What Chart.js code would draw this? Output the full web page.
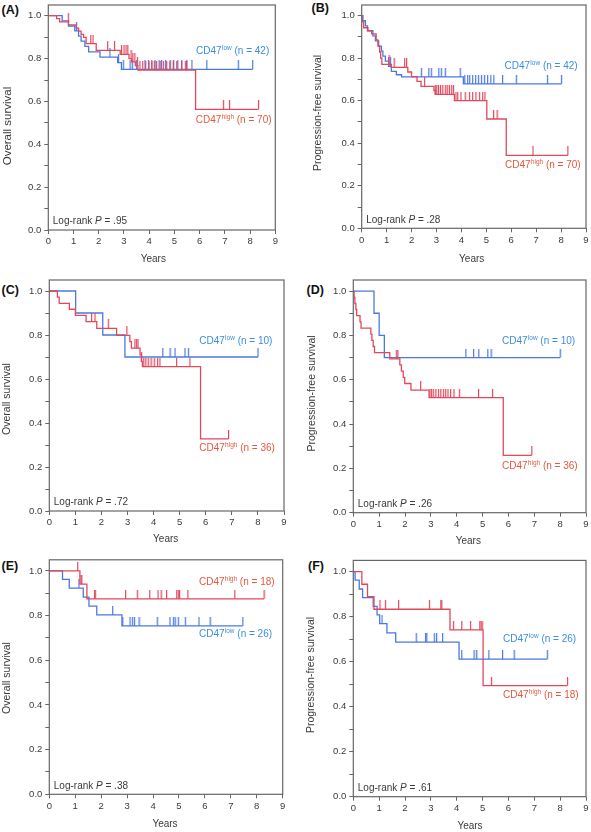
<!DOCTYPE html>
<html><head><meta charset="utf-8">
<script src="https://cdn.jsdelivr.net/npm/chart.js@4.4.1/dist/chart.umd.min.js"></script>
<style>
html,body{margin:0;padding:0;background:#fff;}
body{width:591px;height:832px;position:relative;overflow:hidden;font-family:"Liberation Sans",Arial,sans-serif;}
.pl{position:absolute;font-weight:bold;font-size:12.5px;line-height:13px;color:#111;}
canvas{position:absolute;}
</style></head><body>
<div class="pl" style="left:1.5px;top:3.5px">(A)</div>
<div class="pl" style="left:311.5px;top:2px">(B)</div>
<div class="pl" style="left:1.5px;top:283.5px">(C)</div>
<div class="pl" style="left:306.5px;top:283.5px">(D)</div>
<div class="pl" style="left:1.5px;top:560px">(E)</div>
<div class="pl" style="left:308px;top:560px">(F)</div>
<canvas id="cA" width="295" height="275" style="left:0;top:0"></canvas>
<canvas id="cB" width="296" height="275" style="left:295px;top:0"></canvas>
<canvas id="cC" width="295" height="275" style="left:0;top:275px"></canvas>
<canvas id="cD" width="296" height="275" style="left:295px;top:275px"></canvas>
<canvas id="cE" width="295" height="282" style="left:0;top:550px"></canvas>
<canvas id="cF" width="296" height="282" style="left:295px;top:550px"></canvas>
<script>
// ---------- data (years / survival) ----------
const xTicks = [0,1,2,3,4,5,6,7,8,9];

// (A) overall survival, all patients
const A_low_t  = [0, 0.55, 0.8, 1.05, 1.2, 1.3, 1.45, 1.6, 2.05, 2.75, 2.9];
const A_low_s  = [1, 0.976, 0.952, 0.929, 0.905, 0.881, 0.857, 0.831, 0.807, 0.781, 0.750];
const A_low_c  = [1.12, 2.44, 2.78, 2.97, 3.24, 3.33, 3.5, 3.83, 3.97, 4.1, 4.23, 4.39, 4.49, 4.65, 4.83, 4.96, 5.13, 5.29, 5.49, 5.69, 6.28, 7.53, 8.10];
const A_high_t = [0, 0.33, 0.45, 0.8, 1.1, 1.2, 1.3, 1.4, 1.5, 1.9, 2.85, 3.2, 3.3, 3.45, 3.55, 5.84];
const A_high_s = [1, 0.986, 0.971, 0.957, 0.942, 0.928, 0.913, 0.899, 0.870, 0.838, 0.820, 0.800, 0.785, 0.767, 0.746, 0.563];
const A_high_c = [0.79, 1.68, 1.77, 2.35, 2.62, 2.9, 3.0, 3.08, 3.15, 3.28, 3.35, 3.43, 3.53, 3.63, 3.74, 3.86, 3.99, 4.1, 4.2, 4.29, 4.43, 4.56, 4.69, 4.82, 4.95, 5.09, 5.28, 5.43, 5.48, 6.94, 7.18, 8.33];

// (B) progression-free survival, all patients
const B_low_t  = [0, 0.05, 0.15, 0.23, 0.45, 0.55, 0.68, 0.79, 0.85, 0.95, 1.08, 1.19, 1.39, 1.6, 4.08];
const B_low_s  = [1, 0.976, 0.952, 0.929, 0.905, 0.881, 0.857, 0.833, 0.810, 0.786, 0.762, 0.738, 0.722, 0.712, 0.679];
const B_low_c  = [1.08, 1.15, 2.39, 2.69, 2.79, 3.09, 3.19, 3.35, 3.95, 4.13, 4.25, 4.33, 4.45, 4.57, 4.68, 4.8, 4.92, 5.05, 5.18, 5.3, 5.65, 6.2, 7.45, 8.01];
const B_high_t = [0, 0.02, 0.08, 0.25, 0.4, 0.58, 0.65, 0.72, 0.76, 0.81, 1.19, 1.85, 2.0, 2.22, 2.38, 2.9, 2.95, 3.72, 5.02, 5.8];
const B_high_s = [1, 0.971, 0.943, 0.929, 0.914, 0.886, 0.857, 0.829, 0.800, 0.771, 0.757, 0.735, 0.713, 0.691, 0.667, 0.648, 0.630, 0.600, 0.514, 0.343];
const B_high_c = [1.1, 1.3, 1.72, 1.8, 2.52, 2.95, 3.01, 3.08, 3.16, 3.25, 3.35, 3.43, 3.52, 3.61, 3.68, 3.78, 3.85, 3.98, 4.15, 4.32, 4.45, 4.58, 4.72, 4.85, 4.94, 5.29, 5.43, 6.87, 8.27];

// (C) overall survival, subgroup
const C_low_t  = [0, 1.01, 2.05, 2.9];
const C_low_s  = [1, 0.9, 0.8, 0.7];
const C_low_c  = [4.35, 4.63, 4.82, 5.2, 5.33, 8.0];
const C_high_t = [0, 0.31, 0.38, 0.77, 1.0, 1.41, 1.82, 2.58, 3.09, 3.15, 3.48, 3.53, 3.57, 5.8];
const C_high_s = [1, 0.972, 0.944, 0.917, 0.889, 0.861, 0.830, 0.798, 0.770, 0.740, 0.710, 0.680, 0.656, 0.328];
const C_high_c = [1.62, 1.75, 2.26, 2.97, 3.28, 3.34, 3.4, 3.54, 3.62, 3.7, 3.79, 3.9, 4.02, 4.15, 4.24, 4.88, 5.39, 6.87];

// (D) progression-free survival, subgroup
const D_low_t  = [0, 0.8, 1.0, 1.2];
const D_low_s  = [1, 0.9, 0.8, 0.7];
const D_low_c  = [4.35, 4.65, 4.85, 5.2, 5.33, 8.0];
const D_high_t = [0, 0.03, 0.06, 0.1, 0.13, 0.26, 0.3, 0.68, 0.72, 0.77, 0.82, 1.41, 1.8, 1.86, 1.93, 1.99, 2.23, 2.93, 5.8];
const D_high_s = [1, 0.972, 0.944, 0.917, 0.889, 0.861, 0.833, 0.806, 0.778, 0.750, 0.722, 0.694, 0.667, 0.639, 0.611, 0.583, 0.553, 0.519, 0.259];
const D_high_c = [1.66, 1.72, 2.6, 2.96, 3.02, 3.09, 3.19, 3.29, 3.38, 3.48, 3.57, 3.66, 3.76, 3.89, 4.1, 4.84, 5.38, 6.9];

// (E) overall survival, subgroup
const E_low_t  = [0, 0.51, 0.77, 1.31, 1.53, 1.83, 2.8];
const E_low_s  = [1, 0.962, 0.923, 0.883, 0.843, 0.803, 0.754];
const E_low_c  = [1.14, 2.44, 2.83, 3.11, 3.2, 3.28, 3.46, 4.16, 4.65, 4.78, 4.85, 4.97, 5.24, 5.77, 6.2, 7.46];
const E_high_t = [0, 1.18, 1.45];
const E_high_s = [1, 0.941, 0.875];
const E_high_c = [1.09, 1.22, 1.25, 1.74, 1.77, 2.94, 3.39, 3.87, 4.19, 4.31, 4.52, 4.91, 4.97, 5.02, 5.34, 7.15, 8.28];

// (F) progression-free survival, subgroup
const F_low_t  = [0, 0.07, 0.23, 0.36, 0.77, 0.92, 1.02, 1.3, 1.64, 4.09];
const F_low_s  = [1, 0.962, 0.923, 0.885, 0.846, 0.808, 0.769, 0.728, 0.687, 0.611];
const F_low_c  = [1.11, 2.43, 2.79, 2.84, 3.13, 3.22, 3.45, 4.19, 4.67, 4.77, 5.24, 5.77, 6.22, 7.5];
const F_high_t = [0, 0.33, 0.55, 0.8, 3.74, 5.02];
const F_high_s = [1, 0.944, 0.889, 0.833, 0.741, 0.494];
const F_high_c = [1.03, 1.24, 1.75, 2.94, 3.38, 3.42, 3.87, 4.19, 4.53, 4.89, 4.94, 4.98, 5.34, 8.28];

const nLow  = [42, 42, 10, 10, 26, 26];
const nHigh = [70, 70, 36, 36, 18, 18];
const pValues = ['.95', '.28', '.72', '.26', '.38', '.61'];
const yTitles = ['Overall survival', 'Progression-free survival', 'Overall survival', 'Progression-free survival', 'Overall survival', 'Progression-free survival'];

// ---------- helpers ----------
const FONT = "'Liberation Sans', Arial, sans-serif";
const BLUE = '#4a78e2', RED = '#e1485c', BLUE_T = '#3a8ee2', RED_T = '#e7573c';
const AXC = '#666666', TXT = '#3a3a3a';

function stepsOf(t, s, c) {
  const end = Math.max(...c);
  const pts = t.map((v, i) => ({x: v, y: s[i]}));
  pts.push({x: end, y: s[s.length - 1]});
  return pts;
}
function survAt(t, s, x) { let v = s[0]; for (let i = 0; i < t.length; i++) if (t[i] <= x) v = s[i]; return v; }
function censOf(t, s, c) { return c.map(x => ({x: x, y: survAt(t, s, x)})); }
function tickImg(color) {
  const cv = document.createElement('canvas'); cv.width = 3; cv.height = 18;
  const g = cv.getContext('2d'); g.fillStyle = color; g.fillRect(1, 0, 1.2, 9); return cv;
}
const blueTick = tickImg(BLUE), redTick = tickImg(RED);

function drawSupLabel(ctx, x, y, sup, n, color) {
  ctx.fillStyle = color; ctx.textAlign = 'left'; ctx.textBaseline = 'middle';
  ctx.font = '10px ' + FONT;
  ctx.fillText('CD47', x, y);
  let w = ctx.measureText('CD47').width;
  ctx.font = '6.5px ' + FONT;
  ctx.fillText(sup, x + w + 0.3, y - 3.2);
  w += ctx.measureText(sup).width + 0.3;
  ctx.font = '10px ' + FONT;
  ctx.fillText(' (n = ' + n + ')', x + w, y);
}

const kmPlugin = {
  id: 'km',
  afterDraw(chart, args, o) {
    const {ctx, chartArea: a, scales: {x, y}} = chart;
    ctx.save();
    ctx.strokeStyle = AXC; ctx.lineWidth = 1.2;
    ctx.strokeRect(a.left, a.top, a.right - a.left, a.bottom - a.top);
    // axis titles
    ctx.fillStyle = TXT; ctx.textAlign = 'center'; ctx.textBaseline = 'middle';
    ctx.font = '10px ' + FONT;
    ctx.fillText('Years', o.xT[0], o.xT[1]);
    ctx.save();
    ctx.translate(o.yT[0], o.yT[1]); ctx.rotate(-Math.PI / 2);
    ctx.font = o.yFont + 'px ' + FONT;
    ctx.fillText(o.yTitle, 0, 0);
    ctx.restore();
    // log-rank
    ctx.textAlign = 'left'; ctx.fillStyle = TXT;
    const lx = a.left + 4.5, ly = a.bottom - 8.5;
    ctx.font = '10px ' + FONT;
    ctx.fillText('Log-rank ', lx, ly);
    let w = ctx.measureText('Log-rank ').width;
    ctx.font = 'italic 10px ' + FONT;
    ctx.fillText('P', lx + w, ly);
    w += ctx.measureText('P').width;
    ctx.font = '10px ' + FONT;
    ctx.fillText(' = ' + o.p, lx + w, ly);
    // group labels
    drawSupLabel(ctx, x.getPixelForValue(o.lowLab[0]), y.getPixelForValue(o.lowLab[1]), 'low', o.nLow, BLUE_T);
    drawSupLabel(ctx, x.getPixelForValue(o.highLab[0]), y.getPixelForValue(o.highLab[1]), 'high', o.nHigh, RED_T);
    ctx.restore();
  }
};

const panels = [
  {id: 'cA', low: [A_low_t, A_low_s, A_low_c], high: [A_high_t, A_high_s, A_high_c], lowLab: [5.86, 0.834], highLab: [5.85, 0.513],
   area: {left: 48.3, right: 19.7, top: 1.4, bottom: 45}, yT: [7.5, 126], yFont: 11.5, xT: [153.3, 259]},
  {id: 'cB', low: [B_low_t, B_low_s, B_low_c], high: [B_high_t, B_high_s, B_high_c], lowLab: [5.73, 0.76], highLab: [5.75, 0.296],
   area: {left: 66.7, right: 4.3, top: 1.5, bottom: 46.7}, yT: [22.7, 113], yFont: 10.5, xT: [176.7, 259.3]},
  {id: 'cC', low: [C_low_t, C_low_s, C_low_c], high: [C_high_t, C_high_s, C_high_c], lowLab: [5.75, 0.772], highLab: [5.75, 0.286],
   area: {left: 49.3, right: 11, top: 2.2, bottom: 39}, yT: [7.5, 124], yFont: 10.5, xT: [165.7, 264.3]},
  {id: 'cD', low: [D_low_t, D_low_s, D_low_c], high: [D_high_t, D_high_s, D_high_c], lowLab: [5.75, 0.772], highLab: [5.75, 0.209],
   area: {left: 58.3, right: 4.3, top: 3.1, bottom: 37.3}, yT: [16.7, 118.5], yFont: 10.5, xT: [173.3, 266.7]},
  {id: 'cE', low: [E_low_t, E_low_s, E_low_c], high: [E_high_t, E_high_s, E_high_c], lowLab: [5.77, 0.718], highLab: [5.77, 0.949],
   area: {left: 49.3, right: 12.3, top: 9.8, bottom: 37.7}, yT: [7.5, 128], yFont: 10.5, xT: [165, 274.5]},
  {id: 'cF', low: [F_low_t, F_low_s, F_low_c], high: [F_high_t, F_high_s, F_high_c], lowLab: [5.79, 0.70], highLab: [5.79, 0.449],
   area: {left: 58.3, right: 2.7, top: 10.4, bottom: 35.3}, yT: [16, 125], yFont: 10.5, xT: [175, 276]}
];

panels.forEach((p, i) => {
  const [lt, ls, lc] = p.low, [ht, hs, hc] = p.high;
  new Chart(document.getElementById(p.id), {
    type: 'line',
    data: {
      datasets: [
        {data: stepsOf(ht, hs, hc), stepped: true, borderColor: RED, borderWidth: 1.3, pointRadius: 0, fill: false},
        {data: censOf(ht, hs, hc), showLine: false, pointStyle: redTick, pointRadius: 3, borderColor: RED, backgroundColor: RED},
        {data: stepsOf(lt, ls, lc), stepped: true, borderColor: BLUE, borderWidth: 1.3, pointRadius: 0, fill: false},
        {data: censOf(lt, ls, lc), showLine: false, pointStyle: blueTick, pointRadius: 3, borderColor: BLUE, backgroundColor: BLUE}
      ]
    },
    options: {
      responsive: false, animation: false, events: [],
      layout: {padding: {left: 0, bottom: 0, top: p.area.top, right: p.area.right}},
      plugins: {legend: {display: false}, tooltip: {enabled: false},
        km: {yTitle: yTitles[i], p: pValues[i], nLow: nLow[i], nHigh: nHigh[i], lowLab: p.lowLab, highLab: p.highLab, yT: p.yT, yFont: p.yFont, xT: p.xT}},
      scales: {
        x: {type: 'linear', min: 0, max: 9,
          afterBuildTicks: s => { s.ticks = xTicks.map(v => ({value: v})); },
          ticks: {color: TXT, font: {size: 9.5, family: FONT}, padding: 2, maxRotation: 0, autoSkip: false, callback: v => String(v)},
          grid: {display: true, drawOnChartArea: false, drawTicks: true, tickLength: 4, color: AXC},
          border: {display: false},
          afterFit: s => { s.height = p.area.bottom; s.paddingLeft = 0; s.paddingRight = 0; }},
        y: {type: 'linear', min: 0, max: 1.05,
          ticks: {stepSize: 0.1, includeBounds: false, color: TXT, font: {size: 9.5, family: FONT}, padding: 3,
            callback: v => (Math.round(v * 10) % 2 === 0 ? v.toFixed(1) : '')},
          grid: {display: true, drawOnChartArea: false, drawTicks: true, tickLength: 4, color: AXC},
          border: {display: false},
          afterFit: s => { s.width = p.area.left; s.paddingTop = 0; s.paddingBottom = 0; }}
      }
    },
    plugins: [kmPlugin]
  });
});
</script>
</body></html>
